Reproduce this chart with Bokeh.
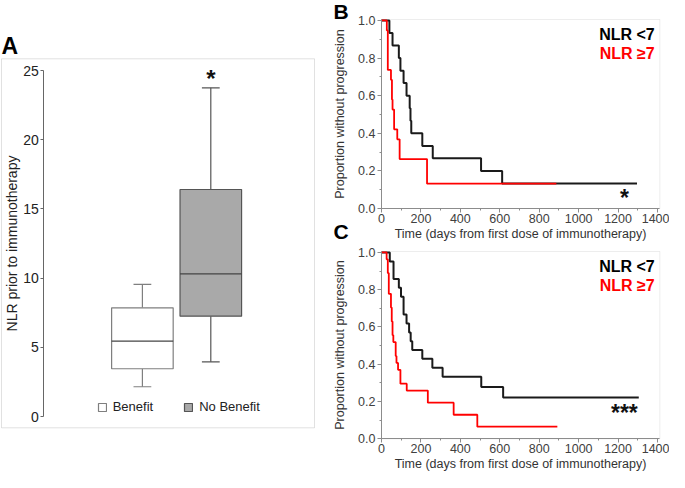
import numpy as np
from bokeh.plotting import figure
from bokeh.layouts import row
from bokeh.models import (Range1d, LinearAxis, FixedTicker, Label, Legend, LegendItem,
                          PrintfTickFormatter, BoxAnnotation)
from bokeh.embed import file_html
from bokeh.resources import INLINE

FONT = "Liberation Sans"

# ---------------- Panel A: NLR box plot ----------------
groups = ["Benefit", "No Benefit"]
positions = [1, 2]
whisk_low = [2.15, 3.95]
q1 = [3.45, 7.25]
median = [5.45, 10.3]
q3 = [7.85, 16.4]
whisk_high = [9.55, 23.75]
box_fill = ["#ffffff", "#a9a9a9"]
box_line = ["#7f7f7f", "#555555"]
a_ticks = [0, 5, 10, 15, 20, 25]

# ---------------- Panel B: KM curves ----------------
b_low_t = [0, 40, 56, 88, 96, 112, 127, 143, 147, 151, 207, 260, 505, 612, 1296]
b_low_s = [1.0, 0.933, 0.867, 0.8, 0.733, 0.667, 0.6, 0.533, 0.467, 0.4, 0.333, 0.267, 0.2, 0.133, 0.133]
b_high_t = [0, 27, 32, 48, 53, 56, 64, 80, 92, 231, 887]
b_high_s = [1.0, 0.947, 0.737, 0.684, 0.579, 0.526, 0.421, 0.368, 0.263, 0.132, 0.132]

# ---------------- Panel C: KM curves ----------------
c_low_t = [0, 42, 61, 88, 99, 112, 127, 140, 148, 156, 207, 258, 310, 506, 617, 1305]
c_low_s = [1.0, 0.952, 0.857, 0.810, 0.762, 0.667, 0.619, 0.571, 0.524, 0.476, 0.429, 0.381, 0.333, 0.278, 0.222, 0.222]
c_high_t = [0, 26, 32, 37, 48, 52, 56, 60, 72, 76, 84, 96, 128, 235, 366, 486, 892]
c_high_s = [1.0, 0.963, 0.889, 0.778, 0.704, 0.630, 0.556, 0.519, 0.444, 0.407, 0.370, 0.296, 0.259, 0.194, 0.129, 0.065, 0.065]

km_x_ticks = [0, 200, 400, 600, 800, 1000, 1200, 1400]
km_x_minor = list(range(0, 1401, 100))
km_y_ticks = [0.0, 0.2, 0.4, 0.6, 0.8, 1.0]
km_y_minor = [0.1, 0.3, 0.5, 0.7, 0.9]
km_x_max = 1412
km_y_max = 1.005
legend_low = "NLR <7"
legend_high = "NLR \u22657"
x_title = "Time (days from first dose of immunotherapy)"
y_title = "Proportion without progression"

# ======================= layout constants (pixels) =======================
WA, H = 322, 472            # panel A canvas
WR = 347                    # right column canvas
# panel A: data 0 at y=416px, 25 at y=70px; group 1 at x=141.9px, group 2 at 210.3px
a_py = (416 - 70) / 25.0
a_px = 210.3 - 141.9
# right column: day 0 at x=59px, 1400 days at x=335px
r_px = (335 - 59) / 1400.0
b_top, b_bot = 19.0, 208.0
c_top, c_bot = 251.0, 438.3
b_py = (b_bot - b_top) / km_y_max
c_py = (c_bot - c_top) / km_y_max

# ======================= Panel A =======================
pos = np.array(positions, dtype=float)
xa0 = positions[0] - 141.9 / a_px
pA = figure(width=WA, height=H, title=None,
            x_range=Range1d(xa0, xa0 + WA / a_px),
            y_range=Range1d(-(H - 416) / a_py, 416 / a_py),
            output_backend="svg", toolbar_location=None, x_axis_location=None, y_axis_location=None,
            min_border=0)
for g in pA.grid:
    g.visible = False
pA.outline_line_color = None

pA.add_layout(BoxAnnotation(left=xa0 + 1 / a_px, right=xa0 + 314 / a_px,
                            bottom=-(427.3 - 416) / a_py, top=(416 - 58.3) / a_py,
                            fill_color=None, fill_alpha=0, line_color="#9a9a9a", line_width=1,
                            level="underlay"))

yA = LinearAxis(fixed_location=xa0 + 43.3 / a_px, bounds=(0, 25), ticker=FixedTicker(ticks=a_ticks),
                axis_label="NLR prior to immunotherapy")
yA.axis_label_text_font = FONT
yA.axis_label_text_font_size = "14px"
yA.axis_label_text_font_style = "normal"
yA.axis_label_text_color = "#222222"
yA.axis_label_standoff = 0
yA.major_label_text_font = FONT
yA.major_label_text_font_size = "14px"
yA.major_label_text_color = "#222222"
yA.major_label_standoff = 2
yA.axis_line_color = "#666666"
yA.major_tick_line_color = "#666666"
yA.major_tick_out = 3
yA.major_tick_in = 0
yA.minor_tick_line_color = None
pA.add_layout(yA, "left")

cap = 0.13
half = 0.45
pA.segment(x0=pos, y0=q3, x1=pos, y1=whisk_high, line_color=box_line, line_width=1.2)
pA.segment(x0=pos, y0=whisk_low, x1=pos, y1=q1, line_color=box_line, line_width=1.2)
pA.segment(x0=pos - cap, y0=whisk_high, x1=pos + cap, y1=whisk_high, line_color=box_line, line_width=1.2)
pA.segment(x0=pos - cap, y0=whisk_low, x1=pos + cap, y1=whisk_low, line_color=box_line, line_width=1.2)
boxes = pA.vbar(x=pos, width=2 * half, bottom=q1, top=q3, fill_color=box_fill,
                line_color=box_line, line_width=1.2)
pA.segment(x0=pos - half, y0=median, x1=pos + half, y1=median, line_color="#444444", line_width=1.2)

legA = Legend(items=[LegendItem(label=groups[0], renderers=[boxes], index=0),
                     LegendItem(label=groups[1], renderers=[boxes], index=1)],
              orientation="horizontal", location=(96.7, H - 414.3), glyph_width=10, glyph_height=10,
              label_height=10, label_standoff=6, spacing=30, padding=0, margin=0,
              border_line_alpha=0, background_fill_alpha=0,
              label_text_font=FONT, label_text_font_size="13px", label_text_color="#222222")
pA.add_layout(legA)

pA.add_layout(Label(x=positions[1], y=(416 - 77.7) / a_py, text="*", text_align="center",
                    text_baseline="middle", text_font=FONT, text_font_size="24px",
                    text_font_style="bold", text_color="#111111"))
pA.add_layout(Label(x=xa0 + 1 / a_px, y=(416 - 45.0) / a_py, text="A", text_align="left",
                    text_baseline="middle", text_font=FONT, text_font_size="23px",
                    text_font_style="bold", text_color="#000000"))

# ======================= Panels B and C (one canvas) =======================
xr0 = -59 / r_px
pR = figure(width=WR, height=H, title=None,
            x_range=Range1d(xr0, xr0 + WR / r_px),
            y_range=Range1d(-(H - b_bot) / b_py, b_bot / b_py),
            output_backend="svg", toolbar_location=None, x_axis_location=None, y_axis_location=None,
            min_border=0)
pR.extra_y_ranges = {"C": Range1d(-(H - c_bot) / c_py, c_bot / c_py)}
for g in pR.grid:
    g.visible = False
pR.outline_line_color = None


def style_axis(ax):
    ax.axis_label_text_font = FONT
    ax.axis_label_text_font_size = "12.5px"
    ax.axis_label_text_font_style = "normal"
    ax.axis_label_text_color = "#333333"
    ax.major_label_text_font = FONT
    ax.major_label_text_font_size = "12.5px"
    ax.major_label_text_color = "#404040"
    ax.axis_line_color = "#8c8c8c"
    ax.major_tick_line_color = "#8c8c8c"
    ax.minor_tick_line_color = "#8c8c8c"
    ax.major_tick_out = 4
    ax.major_tick_in = 0
    ax.minor_tick_out = 2
    ax.minor_tick_in = 0


def km_panel(rname, tl, sl, th, sh, star, star_center_px, leg_y1, leg_y2, bottom_px, py):
    kw = {} if rname == "default" else {"y_range_name": rname}
    pR.add_layout(BoxAnnotation(left=0, right=km_x_max, bottom=0, top=km_y_max,
                                fill_color=None, fill_alpha=0, line_color="#c4c4c4", line_width=1,
                                level="underlay", **kw))
    xa = LinearAxis(fixed_location=0, bounds=(0, km_x_max),
                    ticker=FixedTicker(ticks=km_x_ticks, minor_ticks=km_x_minor),
                    axis_label=x_title, **kw)
    style_axis(xa)
    xa.major_label_standoff = 1
    xa.axis_label_standoff = 1
    pR.add_layout(xa, "below")
    ya = LinearAxis(fixed_location=0, bounds=(0, km_y_max),
                    ticker=FixedTicker(ticks=km_y_ticks, minor_ticks=km_y_minor),
                    formatter=PrintfTickFormatter(format="%.1f"), axis_label=y_title, **kw)
    style_axis(ya)
    ya.major_label_standoff = 2
    ya.axis_label_standoff = 8
    pR.add_layout(ya, "left")
    pR.step(x=tl, y=sl, mode="after", line_color="#1a1a1a", line_width=2, **kw)
    pR.step(x=th, y=sh, mode="after", line_color="#ff0000", line_width=1.8, **kw)
    pR.add_layout(Label(x=1386, y=leg_y1, text=legend_low, text_align="right", text_baseline="middle",
                        text_font=FONT, text_font_size="16px", text_font_style="bold",
                        text_color="#000000", **kw))
    pR.add_layout(Label(x=1386, y=leg_y2, text=legend_high, text_align="right", text_baseline="middle",
                        text_font=FONT, text_font_size="16px", text_font_style="bold",
                        text_color="#ff0000", **kw))
    pR.add_layout(Label(x=1232, y=(bottom_px - star_center_px - 0.21 * 23) / py, text=star,
                        text_align="center", text_baseline="middle", text_font=FONT,
                        text_font_size="23px", text_font_style="bold", text_color="#111111", **kw))


km_panel("default", b_low_t, b_low_s, b_high_t, b_high_s, "*", 192.4, 0.927, 0.825, b_bot, b_py)
km_panel("C", c_low_t, c_low_s, c_high_t, c_high_s, "***", 407.8, 0.926, 0.823, c_bot, c_py)

letter_x = (10.9 - 59) / r_px
pR.add_layout(Label(x=letter_x, y=(b_bot - 10.5) / b_py, text="B", text_align="left",
                    text_baseline="middle", text_font=FONT, text_font_size="21px",
                    text_font_style="bold", text_color="#000000"))
pR.add_layout(Label(x=letter_x, y=(b_bot - 230.6) / b_py, text="C", text_align="left",
                    text_baseline="middle", text_font=FONT, text_font_size="21px",
                    text_font_style="bold", text_color="#000000"))

layout = row(pA, pR)
open("out.html", "w").write(file_html(layout, INLINE))
